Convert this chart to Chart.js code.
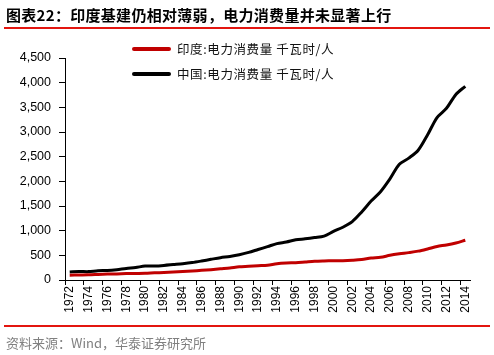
<!DOCTYPE html>
<html>
<head>
<meta charset="utf-8">
<script src="https://cdn.jsdelivr.net/npm/chart.js@4.4.1/dist/chart.umd.min.js"></script>
<style>
  html, body { margin: 0; padding: 0; background: #fff; }
  #wrap { position: relative; width: 494px; height: 355px; overflow: hidden; }
  #title { position: absolute; left: 6px; top: 5px; font: bold 15px "Noto Sans CJK SC", sans-serif; letter-spacing: 0.3px; color: #000; white-space: nowrap; line-height: 20px; }
  #rule1 { position: absolute; left: 4px; width: 486px; top: 27px; height: 2px; background: #e3150f; }
  #rule2 { position: absolute; left: 4px; width: 486px; top: 325px; height: 2px; background: #e3150f; }
  #source { position: absolute; left: 6px; top: 334px; font: 13px "Noto Sans CJK SC", sans-serif; color: #808080; white-space: nowrap; line-height: 18px; }
  canvas { position: absolute; left: 0; top: 0; }
</style>
</head>
<body>
<div id="wrap">
  <canvas id="c" width="494" height="355"></canvas>
  <div id="title">图表22：印度基建仍相对薄弱，电力消费量并未显著上行</div>
  <div id="rule1"></div>
  <div id="rule2"></div>
  <div id="source">资料来源：Wind，华泰证券研究所</div>
</div>
<script>
const years = ['1972','1973','1974','1975','1976','1977','1978','1979','1980','1981','1982','1983','1984','1985','1986','1987','1988','1989','1990','1991','1992','1993','1994','1995','1996','1997','1998','1999','2000','2001','2002','2003','2004','2005','2006','2007','2008','2009','2010','2011','2012','2013','2014'];
const indiaLabel = '印度:电力消费量 千瓦时/人';
const chinaLabel = '中国:电力消费量 千瓦时/人';
const india = [98,101,104,112,120,124,130,133,136,145,152,160,172,183,196,210,228,245,268,278,290,300,330,345,352,365,378,385,390,392,400,414,445,460,500,530,555,585,630,680,710,750,805];
const china = [162,172,170,188,192,209,235,254,282,283,295,313,331,354,385,419,452,477,511,559,618,676,738,770,815,835,860,890,985,1070,1185,1380,1600,1790,2050,2345,2470,2630,2944,3293,3480,3762,3927];
const yTicks = [0,500,1000,1500,2000,2500,3000,3500,4000,4500];

const legendPlugin = {
  id: 'customLegend',
  afterDraw(chart) {
    const ctx = chart.ctx;
    const items = [{ds: chart.data.datasets[0], y: 49}, {ds: chart.data.datasets[1], y: 74}];
    ctx.save();
    items.forEach(it => {
      ctx.strokeStyle = it.ds.borderColor;
      ctx.lineWidth = 4;
      ctx.lineCap = 'round';
      ctx.beginPath();
      ctx.moveTo(134, it.y);
      ctx.lineTo(169, it.y);
      ctx.stroke();
      ctx.fillStyle = '#111';
      ctx.font = '12.5px "Noto Sans CJK SC", sans-serif';
      ctx.textBaseline = 'middle';
      if ('letterSpacing' in ctx) ctx.letterSpacing = '0.6px';
      ctx.fillText(it.ds.label, 177, it.y);
    });
    ctx.restore();
  }
};

new Chart(document.getElementById('c'), {
  type: 'line',
  data: {
    labels: years,
    datasets: [
      { label: indiaLabel, data: india, borderColor: '#c00000', backgroundColor: '#c00000', borderWidth: 3, pointRadius: 0, tension: 0.3, fill: false },
      { label: chinaLabel, data: china, borderColor: '#000000', backgroundColor: '#000000', borderWidth: 3, pointRadius: 0, tension: 0.3, fill: false }
    ]
  },
  options: {
    responsive: false,
    animation: false,
    layout: { padding: { top: 58, right: 24, left: 0, bottom: 0 } },
    plugins: { legend: { display: false }, tooltip: { enabled: false } },
    scales: {
      x: {
        type: 'category',
        offset: true,
        afterFit(scale) { scale.height = 75; },
        border: { display: true, color: '#000', width: 1 },
        grid: {
          offset: true,
          drawOnChartArea: false,
          drawTicks: true,
          tickLength: 5,
          tickWidth: 1,
          color: (ctx) => (ctx.index % 2 === 0 ? '#000' : 'rgba(0,0,0,0)')
        },
        ticks: {
          autoSkip: false,
          maxRotation: 90,
          minRotation: 90,
          padding: 1,
          color: '#000',
          font: { family: 'Liberation Sans, Arial', size: 12 },
          callback: function(v, i) { return i % 2 === 0 ? years[i] : ''; }
        }
      },
      y: {
        min: 0,
        max: 4500,
        afterFit(scale) { scale.width = 65; },
        afterBuildTicks(scale) { scale.ticks = yTicks.map(v => ({ value: v })); },
        border: { display: true, color: '#000', width: 1 },
        grid: {
          drawOnChartArea: false,
          drawTicks: true,
          tickLength: 6,
          color: '#000'
        },
        ticks: {
          padding: 8,
          color: '#000',
          font: { family: 'Liberation Sans, Arial', size: 12.5 },
          callback: (v) => v.toLocaleString('en-US')
        }
      }
    }
  },
  plugins: [legendPlugin]
});
</script>
</body>
</html>
